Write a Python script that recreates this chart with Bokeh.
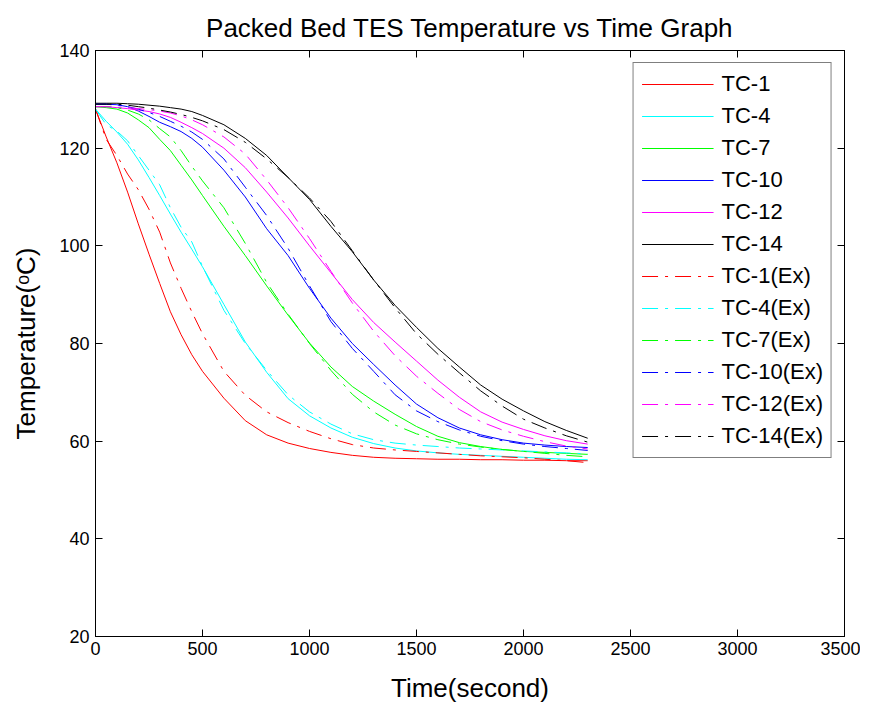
from bokeh.plotting import figure
from bokeh.models import LinearAxis, FixedTicker, Range1d
from bokeh.embed import file_html
from bokeh.resources import INLINE

# ---- data ----
time_s = [0, 50, 100, 150, 200, 250, 300, 350, 400, 450, 500,
          600, 700, 800, 900, 1000, 1100, 1200, 1300, 1400, 1500,
          1600, 1700, 1800, 1900, 2000, 2100, 2200, 2300]

tc1 = [128, 122.3, 117, 111, 104.5, 98.3, 92.3, 86.5, 81.8, 77.7, 74.3,
       68.8, 64.2, 61.3, 59.6, 58.5, 57.7, 57.1, 56.7, 56.5, 56.4,
       56.3, 56.3, 56.2, 56.2, 56.1, 56.1, 56.0, 56.0]
tc4 = [128, 125.5, 123.3, 120.8, 117.6, 114, 110.3, 106.5, 102.8, 99.3, 95.7,
       88, 80.3, 74.1, 68.7, 65.2, 62.7, 60.8, 59.5, 58.6, 58,
       57.6, 57.3, 57.1, 56.9, 56.7, 56.5, 56.3, 56.2]
tc7 = [128.5, 128.3, 128, 127.2, 125.8, 124.2, 121.8, 119.5, 116.5, 113.5, 110.3,
       104, 98, 91.8, 85.8, 80.1, 75.2, 71.2, 68.2, 65.5, 63,
       61, 59.7, 58.9, 58.3, 57.9, 57.7, 57.5, 57.3]
tc10 = [129, 129, 128.9, 128.5, 127.6, 126.5, 125.3, 124.4, 123.4, 122, 120.2,
        115.5, 110, 103.5, 98, 91.3, 85.2, 80, 75.7, 71.5, 67.6,
        64.8, 62.7, 61.3, 60.3, 59.6, 59.2, 58.9, 58.7]
tc12 = [128.5, 128.5, 128.3, 128.1, 127.8, 127.5, 127, 126.3, 125.3, 124.2, 123,
        120, 116, 111, 105.7, 100, 94.5, 89, 84.3, 80.3, 76.4,
        72.5, 69, 66, 63.9, 62.4, 61.1, 60.1, 59.4]
tc14 = [129.2, 129.2, 129.2, 129.1, 129, 128.8, 128.6, 128.3, 128, 127.5, 126.7,
        124.8, 122, 118.5, 114, 109.5, 104, 98.8, 93, 87.8, 83.3,
        79, 75.2, 71.5, 68.6, 66.2, 64, 62.2, 60.6]

tc1_ex = [128, 121.8, 118.5, 114.7, 111.5, 107.5, 102.8, 96.5, 91.3, 86.5, 82,
          74.3, 69.4, 66, 63.8, 62, 60.5, 59.3, 58.6, 58.2, 57.9,
          57.6, 57.3, 57.0, 56.8, 56.6, 56.3, 56.0, 55.6]
tc4_ex = [128, 124.8, 123.5, 121.5, 118.5, 115.5, 112.5, 107.8, 103.8, 100.8, 95.8,
          86.8, 80, 74.5, 69.5, 66, 63.5, 61.5, 60.3, 59.6, 59.2,
          58.9, 58.6, 58.4, 58.2, 58.0, 57.8, 57.6, 57.4]
tc7_ex = [128.5, 128.5, 128.3, 127.8, 127, 125.8, 124, 122.3, 119.5, 116.3, 113.3,
          107.8, 100.5, 92.5, 86, 80, 74.5, 69.6, 66, 63.3, 61.5,
          60.3, 59.4, 58.8, 58.3, 57.9, 57.5, 57.1, 56.8]
tc10_ex = [129, 129, 128.8, 128.5, 128, 127.3, 126.5, 125.5, 124.5, 123.3, 121.8,
           117.8, 112, 106.2, 99.5, 91.8, 84.5, 79, 74.3, 69.5, 66.2,
           64, 62.3, 61, 60.1, 59.4, 58.9, 58.5, 58.1]
tc12_ex = [128.5, 128.5, 128.4, 128.3, 128.1, 127.9, 127.6, 127.2, 126.6, 125.8, 124.8,
           122.3, 118.8, 113.5, 107.8, 101.5, 94.8, 88.3, 82.5, 77.5, 73.3,
           69.8, 66.5, 64, 62.3, 61, 59.9, 59, 58.4]
tc14_ex = [129, 129, 129, 128.8, 128.5, 128.2, 127.8, 127.4, 126.9, 126.3, 125.6,
           123.8, 121.2, 117.8, 114, 109.8, 105, 99, 93, 87.3, 82,
           77.8, 74, 70.3, 67.2, 64.5, 62.7, 61.1, 59.8]

series_names = ["TC-1", "TC-4", "TC-7", "TC-10", "TC-12", "TC-14"]
sim_series = [tc1, tc4, tc7, tc10, tc12, tc14]
ex_series = [tc1_ex, tc4_ex, tc7_ex, tc10_ex, tc12_ex, tc14_ex]
series_colors = ["#ff0000", "#00ffff", "#00ff00", "#0000ff", "#ff00ff", "#000000"]

x_ticks = [0, 500, 1000, 1500, 2000, 2500, 3000, 3500]
y_ticks = [20, 40, 60, 80, 100, 120, 140]

FONT = "Liberation Sans"

p = figure(frame_width=749, frame_height=586,
           x_range=Range1d(0, 3500), y_range=Range1d(20, 140),
           output_backend="svg", toolbar_location=None,
           min_border_left=95, min_border_right=16,
           min_border_top=50, min_border_bottom=60,
           title="Packed Bed TES Temperature vs Time Graph")
p.background_fill_color = "white"
p.border_fill_color = "white"
p.outline_line_color = "black"
p.xgrid.grid_line_color = None
p.ygrid.grid_line_color = None

p.title.align = "center"
p.title.text_font = FONT
p.title.text_font_style = "normal"
p.title.text_font_size = "26px"
p.title.text_color = "black"
p.title.standoff = 16

def style_axis(ax, ticks, show_labels=True):
    ax.ticker = FixedTicker(ticks=ticks)
    ax.major_tick_in = 7
    ax.major_tick_out = 0
    ax.minor_tick_line_color = None
    ax.axis_line_color = "black"
    ax.major_tick_line_color = "black"
    ax.major_label_text_font = FONT
    ax.major_label_text_color = "black"
    ax.axis_label_text_font = FONT
    ax.axis_label_text_font_style = "normal"
    ax.axis_label_text_color = "black"
    if show_labels:
        ax.major_label_text_font_size = "18px"
        ax.axis_label_text_font_size = "26px"
    else:
        ax.major_label_text_alpha = 0
        ax.major_label_text_font_size = "1px"
        ax.major_label_standoff = 0

xa = p.xaxis[0]
ya = p.yaxis[0]
style_axis(xa, x_ticks)
style_axis(ya, y_ticks)
xa.axis_label = "Time(second)"
ya.axis_label = "Temperature(ᵒC)"
xa.major_label_standoff = 5
xa.axis_label_standoff = 15
ya.major_label_standoff = 6
ya.axis_label_standoff = 15

top_ax = LinearAxis()
style_axis(top_ax, x_ticks, show_labels=False)
p.add_layout(top_ax, "above")
right_ax = LinearAxis()
style_axis(right_ax, y_ticks, show_labels=False)
p.add_layout(right_ax, "right")

for name, vals, col in zip(series_names, sim_series, series_colors):
    p.line(time_s, vals, line_color=col, line_width=1, legend_label=name)
for name, vals, col in zip(series_names, ex_series, series_colors):
    p.line(time_s, vals, line_color=col, line_width=1, line_dash="16 7 3 7",
           legend_label=name + "(Ex)")

lg = p.legend[0]
lg.location = "top_right"
lg.margin = 12
lg.border_line_color = "black"
lg.border_line_width = 1
lg.background_fill_color = "white"
lg.background_fill_alpha = 1
lg.label_text_font = FONT
lg.label_text_font_size = "22px"
lg.label_text_color = "black"
lg.glyph_width = 72
lg.glyph_height = 20
lg.label_height = 20
lg.spacing = 6
lg.padding = 8
lg.label_standoff = 8

open("out.html", "w").write(file_html(p, INLINE))
